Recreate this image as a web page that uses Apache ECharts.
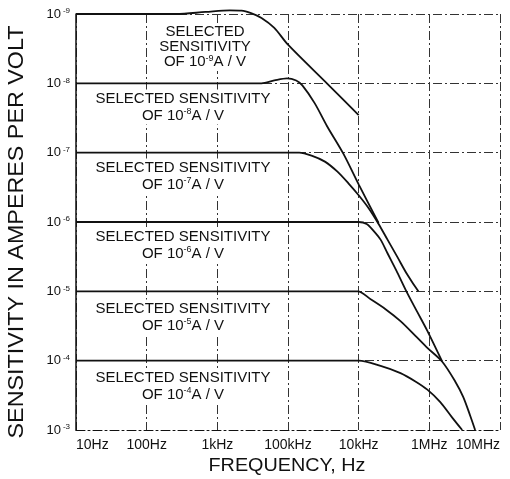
<!DOCTYPE html>
<html><head><meta charset="utf-8">
<script src="https://cdn.jsdelivr.net/npm/echarts@6/dist/echarts.min.js"></script>
<style>html,body{margin:0;padding:0;background:#fff}#c{width:510px;height:479px}</style>
</head><body><div id="c"></div>
<script>
// ---- data ----
const xTickLabels = ['10Hz', '100Hz', '1kHz', '100kHz', '10kHz', '1MHz', '10MHz'];
const yTickExponents = ['-3', '-4', '-5', '-6', '-7', '-8', '-9'];
const sensitivityNames = ['10-9', '10-8', '10-7', '10-6', '10-5', '10-4'];
const xTitle = 'FREQUENCY, Hz';
const yTitle = 'SENSITIVITY IN AMPERES PER VOLT';

const sens9 = [[10, 1e9], [261, 1e9], [681, 1.07e9], [1500, 1.13e9], [2200, 1.12e9], [3000, 1.03e9],
  [4217, 8.77e8], [6397, 6.31e8], [1e4, 3.61e8], [36700, 9.68e7], [1e5, 3.49e7]];
const sens8 = [[10, 1e8], [4217, 1e8], [6397, 1.10e8], [9680, 1.18e8], [13060, 1.10e8], [15960, 9.35e7],
  [23820, 5.18e7], [35560, 2.43e7], [60670, 9.68e6], [1e5, 3.49e6], [191400, 9.68e5]];
const sens7 = [[10, 1e7], [14420, 1e7], [21530, 9.06e6], [33270, 7.43e6], [49660, 5.36e6], [71610, 3.61e6],
  [1e5, 2.43e6], [138400, 1.58e6], [191400, 9.38e5], [255900, 5.57e5], [354000, 3.11e5], [489800, 1.73e5], [699800, 1e5]];
const sens6 = [[10, 1e6], [1e5, 1e6], [129700, 9.38e5], [162600, 7.46e5], [204200, 5.57e5], [255900, 3.54e5],
  [354000, 1.85e5], [489800, 9.35e4], [677600, 5.01e4], [937600, 2.69e4], [1.524e6, 9.66e3]];
const sens5 = [[10, 1e5], [96830, 1e5], [147600, 7.69e4], [239900, 5.53e4], [390800, 3.72e4], [635300, 2.28e4],
  [937600, 1.53e4], [1.524e6, 9.66e3], [2.323e6, 5.02e3], [3.013e6, 3.01e3], [3.776e6, 1.62e3], [4.446e6, 1e3]];
const sens4 = [[10, 1e4], [1e5, 1e4], [204200, 8.41e3], [390800, 6.62e3], [635300, 5.02e3], [937600, 3.82e3],
  [1.429e6, 2.53e3], [2.109e6, 1.51e3], [2.917e6, 1e3]];

const curves = [sens9, sens8, sens7, sens6, sens5, sens4];

// ---- chart ----
const chart = echarts.init(document.getElementById('c'), null, {renderer: 'canvas'});
const INK = '#111';
const FONT = 'Liberation Sans, Arial, sans-serif';
const gridLine = {show: true, lineStyle: {color: '#333', width: 1, type: [9, 3, 2, 3]}};

function decadeIndex(v) { return Math.round(Math.log10(v)); }

function sensLabel(name, threeLines) {
  const exp = name.slice(2);
  const first = threeLines ? 'SELECTED\nSENSITIVITY' : 'SELECTED SENSITIVITY';
  return first + '\n{n|OF 10}{s|' + exp + '}{n|A / V}';
}

const labelPos = [[205, 47, true], [183, 107], [183, 176], [183, 245], [183, 317], [183, 386]];
const textRich = {
  n: {fontSize: 15, fontFamily: FONT, fill: INK, lineHeight: 16},
  s: {fontSize: 9, fontFamily: FONT, fill: INK, verticalAlign: 'top', lineHeight: 16}
};
const graphics = sensitivityNames.map((nm, i) => ({
  type: 'text', z: 50, x: labelPos[i][0], y: labelPos[i][1],
  style: {
    text: sensLabel(nm, labelPos[i][2]),
    font: '15px ' + FONT, fill: INK, align: 'center', verticalAlign: 'middle',
    lineHeight: labelPos[i][2] ? 15 : 17,
    backgroundColor: '#fff', padding: [1, 3],
    rich: textRich
  }
}));
graphics.push({
  type: 'text', z: 50, x: 17, y: 232, rotation: Math.PI / 2, scaleX: 1.06,
  style: {text: yTitle, font: '22px ' + FONT, fill: INK, align: 'center', verticalAlign: 'middle'}
});
graphics.push({
  type: 'text', z: 50, x: 287, y: 466, scaleX: 1.1,
  style: {text: xTitle, font: '18px ' + FONT, fill: INK, align: 'center', verticalAlign: 'middle'}
});

chart.setOption({
  animation: false,
  backgroundColor: '#fff',
  grid: {left: 76, right: 10, top: 14, bottom: 49},
  xAxis: {
    type: 'log', logBase: 10, min: 10, max: 1e7,
    axisLine: {show: true, lineStyle: {color: INK, width: 1, type: [9, 3, 2, 3]}},
    axisTick: {show: false},
    splitLine: gridLine,
    axisLabel: {
      color: INK, fontFamily: FONT, fontSize: 14, margin: 8,
      alignMinLabel: 'left', alignMaxLabel: 'right',
      formatter: v => xTickLabels[decadeIndex(v) - 1] || ''
    }
  },
  yAxis: {
    type: 'log', logBase: 10, min: 1e3, max: 1e9,
    axisLine: {show: true, lineStyle: {color: INK, width: 1.5}},
    axisTick: {show: false},
    splitLine: gridLine,
    axisLabel: {
      margin: 6,
      formatter: v => '{b|10}{s|' + yTickExponents[decadeIndex(v) - 3] + '}',
      rich: {
        b: {fontSize: 13, fontFamily: FONT, color: INK, lineHeight: 14},
        s: {fontSize: 8, fontFamily: FONT, color: INK, verticalAlign: 'top', lineHeight: 14, padding: [0, 0, 0, 2]}
      }
    }
  },
  series: curves.map((d, i) => ({
    type: 'line', name: sensitivityNames[i], data: d, showSymbol: false,
    smooth: 0.3, clip: false,
    lineStyle: {color: INK, width: 1.8}, z: 5
  })),
  graphic: graphics
});
</script></body></html>
